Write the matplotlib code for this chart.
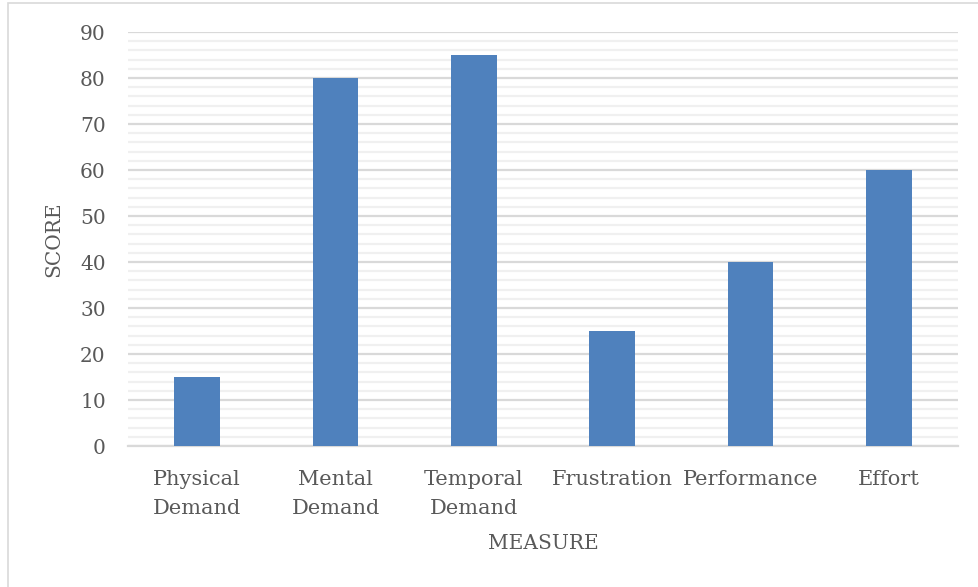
import matplotlib.pyplot as plt
from matplotlib.patches import Rectangle
from matplotlib.ticker import MultipleLocator

# workload scores per measure
measures = ["Physical\nDemand", "Mental\nDemand", "Temporal\nDemand",
            "Frustration", "Performance", "Effort"]
scores = [15, 80, 85, 25, 40, 60]

plt.rcParams["font.family"] = "DejaVu Serif"
grey = "#595959"

fig = plt.figure(figsize=(9.79, 5.87), dpi=100)
ax = fig.add_axes([128 / 979, 1 - 446 / 587, 830 / 979, 414 / 587])

x = range(len(measures))
ax.bar(x, scores, width=0.33, color="#4f81bd", zorder=3)

ax.set_xlim(-0.5, len(measures) - 0.5)
ax.set_ylim(0, 90)
ax.yaxis.set_major_locator(MultipleLocator(10))
ax.yaxis.set_minor_locator(MultipleLocator(2))
ax.grid(axis="y", which="major", color="#d9d9d9", linewidth=1.6, zorder=0)
ax.grid(axis="y", which="minor", color="#f0f0f0", linewidth=1.6, zorder=0)
ax.tick_params(axis="both", which="both", length=0)
ax.tick_params(axis="y", pad=16, labelsize=14.5, labelcolor=grey)
ax.tick_params(axis="x", pad=17)

for s in ["top", "right", "left"]:
    ax.spines[s].set_visible(False)
ax.spines["bottom"].set_color("#d9d9d9")
ax.spines["bottom"].set_linewidth(1.6)

ax.set_xticks(list(x))
ax.set_xticklabels(measures, fontsize=15, color=grey, linespacing=1.72)

ax.set_ylabel("SCORE", fontsize=14.5, color=grey, labelpad=12)
ax.set_xlabel("MEASURE", fontsize=14.5, color=grey, labelpad=11)

# chart frame
fig.patches.append(Rectangle((8 / 979, -0.1), 1, 1.1 - 3 / 587,
                             transform=fig.transFigure, fill=False,
                             edgecolor="#d9d9d9", linewidth=1.2))

fig.savefig("out.png", dpi=100)
